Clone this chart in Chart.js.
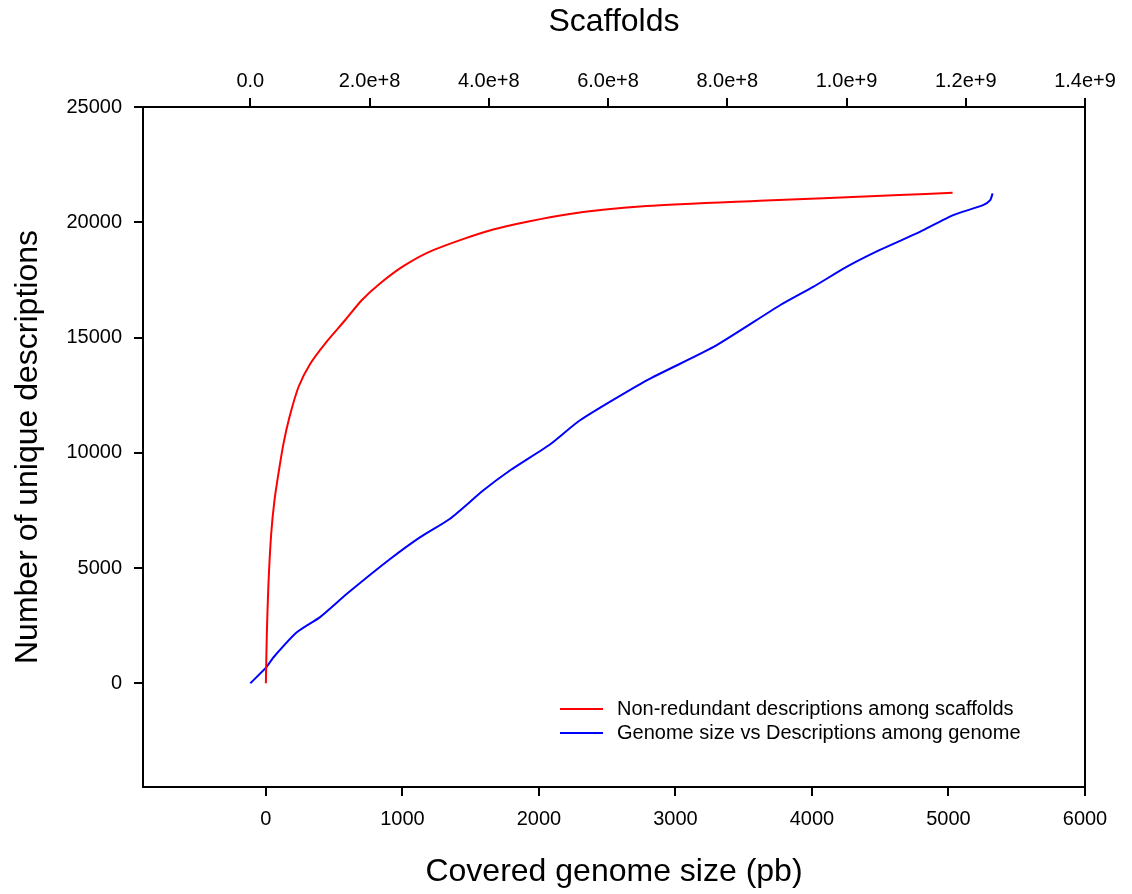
<!DOCTYPE html>
<html>
<head>
<meta charset="utf-8">
<script src="https://cdn.jsdelivr.net/npm/chart.js@4"></script>
<style>
  html, body { margin: 0; padding: 0; background: #fff; }
  #wrap { width: 1132px; height: 894px; }
</style>
</head>
<body>
<div id="wrap"><canvas id="curve" width="1132" height="894"></canvas></div>
<script>
    // Red curve: scaffolds (bottom axis) vs unique descriptions
    const redLabel = "Non-redundant descriptions among scaffolds";
    const redX = [0, 7, 19, 39, 63, 92, 129, 173, 239, 324, 434, 580, 702, 836, 1007, 1226, 1665, 2202, 2787, 3616, 4640, 5030];
    const redY = [0, 2145, 4316, 6487, 7933, 9092, 10395, 11550, 12853, 13850, 14737, 15749, 16617, 17342, 18094, 18789, 19687, 20339, 20700, 20929, 21177, 21277];

    // Blue curve: genome size (top axis) vs descriptions
    const blueLabel = "Genome size vs Descriptions among genome";
    const blueX = [0, 2.7e7, 3.9e7, 7.8e7, 1.17e8, 1.62e8, 2.35e8, 2.85e8, 3.35e8, 3.91e8, 4.36e8, 5.03e8, 5.53e8, 6.65e8, 7.77e8, 8.885e8, 9.44e8, 1.0e9, 1.056e9, 1.123e9, 1.179e9, 1.229e9, 1.241e9, 1.245e9];
    const blueY = [0, 700, 1130, 2210, 2870, 3880, 5400, 6340, 7140, 8370, 9240, 10370, 11410, 13140, 14590, 16400, 17195, 18063, 18800, 19583, 20308, 20742, 20960, 21250];

    // tick positions
    const bottomTicks = [0, 1000, 2000, 3000, 4000, 5000, 6000];
    const topTicks = [0, 2e8, 4e8, 6e8, 8e8, 1e9, 1.2e9, 1.4e9];
    const yTicks = [0, 5000, 10000, 15000, 20000, 25000];

    const toPoints = (xs, ys) => xs.map((x, i) => ({ x: x, y: ys[i] }));
    const fixTicks = values => scale => { scale.ticks = values.map(v => ({ value: v })); };

    const FONT = "'Liberation Sans', Arial, Helvetica, sans-serif";

    // draws the right border and the legend inside the plot
    const boxAndLegend = {
        id: "boxAndLegend",
        afterDraw(chart) {
            const ctx = chart.ctx;
            const a = chart.chartArea;
            ctx.save();
            ctx.strokeStyle = "#000";
            ctx.lineWidth = 2;
            ctx.beginPath();
            ctx.moveTo(a.right, a.top);
            ctx.lineTo(a.right, a.bottom);
            ctx.stroke();

            const lx = a.left + 417;
            let ly = a.bottom - 78;
            ctx.font = "20px " + FONT;
            ctx.textBaseline = "middle";
            ctx.textAlign = "left";
            chart.data.datasets.forEach(ds => {
                ctx.strokeStyle = ds.borderColor;
                ctx.lineWidth = 2;
                ctx.beginPath();
                ctx.moveTo(lx, ly);
                ctx.lineTo(lx + 43, ly);
                ctx.stroke();
                ctx.fillStyle = "#000";
                ctx.fillText(ds.label, lx + 57, ly);
                ly += 24;
            });
            ctx.restore();
        }
    };

    const tickFont = { family: FONT, size: 20 };
    const titleFont = { family: FONT, size: 32 };
    const gridOpts = { drawOnChartArea: false, drawTicks: true, tickLength: 9, color: "#000", lineWidth: 2 };
    const borderOpts = { display: true, color: "#000", width: 2 };

    new Chart(document.getElementById("curve"), {
        type: "scatter",
        data: {
            datasets: [
                {
                    label: redLabel,
                    data: toPoints(redX, redY),
                    xAxisID: "x",
                    yAxisID: "y",
                    showLine: true,
                    borderColor: "#ff0000",
                    borderWidth: 2,
                    pointRadius: 0,
                    tension: 0.25
                },
                {
                    label: blueLabel,
                    data: toPoints(blueX, blueY),
                    xAxisID: "x2",
                    yAxisID: "y",
                    showLine: true,
                    borderColor: "#0000ff",
                    borderWidth: 2,
                    pointRadius: 0,
                    tension: 0.2
                }
            ]
        },
        options: {
            responsive: false,
            animation: false,
            devicePixelRatio: 1,
            layout: { padding: { left: 0, right: 47, top: 0, bottom: 0 } },
            plugins: {
                legend: { display: false },
                tooltip: { enabled: false }
            },
            scales: {
                x: {
                    type: "linear",
                    position: "bottom",
                    min: -900,
                    max: 6000,
                    grid: gridOpts,
                    border: borderOpts,
                    afterBuildTicks: fixTicks(bottomTicks),
                    ticks: {
                        color: "#000",
                        font: tickFont,
                        padding: 11,
                        maxRotation: 0,
                        autoSkip: false,
                        callback: v => String(v)
                    },
                    title: {
                        display: true,
                        text: "Covered genome size (pb)",
                        color: "#000",
                        font: titleFont,
                        padding: { top: 0, bottom: 3 }
                    },
                    afterFit: s => { s.height = 107; }
                },
                x2: {
                    type: "linear",
                    position: "top",
                    min: -1.8e8,
                    max: 1.4e9,
                    grid: gridOpts,
                    border: borderOpts,
                    afterBuildTicks: fixTicks(topTicks),
                    ticks: {
                        color: "#000",
                        font: tickFont,
                        padding: 5,
                        maxRotation: 0,
                        autoSkip: false,
                        callback: v => v === 0 ? "0.0" : v.toExponential(1)
                    },
                    title: {
                        display: true,
                        text: "Scaffolds",
                        color: "#000",
                        font: titleFont,
                        padding: { top: 3, bottom: 0 }
                    },
                    afterFit: s => { s.height = 107; }
                },
                y: {
                    type: "linear",
                    position: "left",
                    min: -4500,
                    max: 25000,
                    grid: gridOpts,
                    border: borderOpts,
                    afterBuildTicks: fixTicks(yTicks),
                    ticks: {
                        color: "#000",
                        font: tickFont,
                        padding: 12,
                        autoSkip: false,
                        callback: v => String(v)
                    },
                    title: {
                        display: true,
                        text: "Number of unique descriptions",
                        color: "#000",
                        font: titleFont,
                        padding: { top: 9, bottom: 0 }
                    },
                    afterFit: s => { s.width = 143; }
                }
            }
        },
        plugins: [boxAndLegend]
    });
</script>
</body>
</html>
